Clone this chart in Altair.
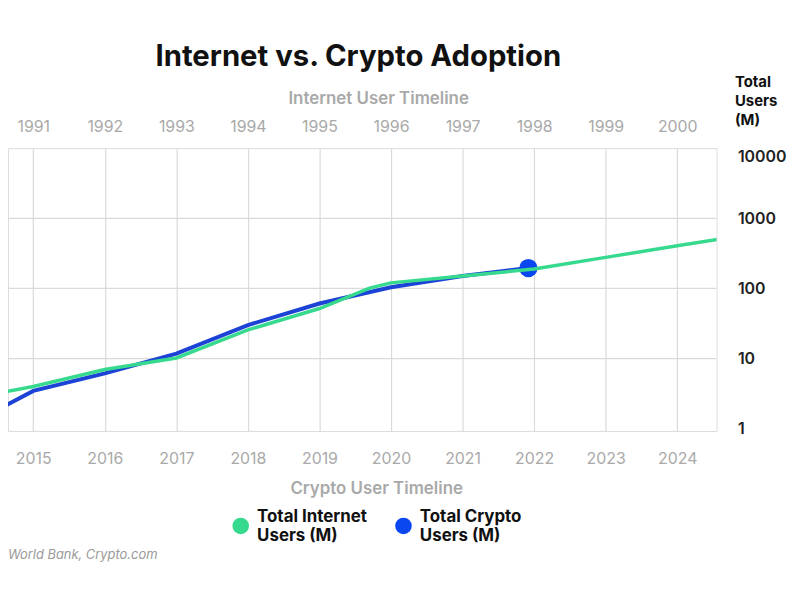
import altair as alt
import pandas as pd

# ---- data ----
internet_years = [1990, 1991, 1992, 1993, 1994, 1995, 1995.7, 1996, 1997, 1998, 1999, 2000, 2001]
internet_users = [2.6, 4.0, 7.0, 10.2, 25.6, 51.7, 101, 120, 150, 189, 277, 405, 591]

crypto_years = [2014, 2015, 2016, 2017, 2018, 2019, 2020, 2021, 2021.92]
crypto_users = [1.0, 3.46, 6.15, 11.8, 30, 61, 104, 150, 195]

internet_ticks = list(range(1991, 2001))
crypto_ticks = list(range(2015, 2025))
y_ticks = [1, 10, 100, 1000, 10000]
y_grid = [10, 100, 1000]

series_names = ["Total Internet Users (M)", "Total Crypto Users (M)"]
series_colors = ["#36d98e", "#0b47f0"]

TITLE = "Internet vs. Crypto Adoption"
SOURCE = "World Bank, Crypto.com"

FONT = "Inter"
GREEN = "#36d98e"
BLUE_LINE = "#1d43d6"
GRID = "#dadada"
GRAY = "#a9a9a9"

df_int = pd.DataFrame({"year": internet_years, "users": internet_users})
df_cry = pd.DataFrame({"year": crypto_years, "users": crypto_users})
df_dot = df_cry.tail(1).assign(series=series_names[1])
df_grid = pd.DataFrame({"users": y_grid})
df_src = pd.DataFrame({"t": [SOURCE]})

y_axis = alt.Axis(
    orient="right", values=y_ticks, format="d",
    labelAlign="left", labelPadding=21, labelFlush=True,
    labelFont=FONT, labelFontSize=16, labelFontWeight=600, labelColor="#222222",
    ticks=False, domain=False, grid=False,
    title=["Total", "Users", "(M)"], titleAngle=0, titleAlign="left", titleBaseline="top",
    titleX=18, titleY=-74, titleFont=FONT, titleFontSize=15, titleFontWeight="bold",
    titleColor="#111111", titleLineHeight=19,
)
y_scale = alt.Scale(type="log", domain=[0.93, 10000], nice=False)
y_enc = alt.Y("users:Q", scale=y_scale, axis=y_axis)

x_int = alt.X(
    "year:Q",
    scale=alt.Scale(domain=[1990.647, 2000.55], nice=False, zero=False),
    axis=alt.Axis(
        orient="top", values=internet_ticks, format="d", ticks=False, domain=False,
        grid=True, gridColor=GRID, gridWidth=1.2,
        labelFont=FONT, labelFontSize=16, labelColor=GRAY, labelPadding=14,
        labelFlush=False, labelOverlap=False,
        title="Internet User Timeline", titleFont=FONT, titleFontSize=17, titleFontWeight=600,
        titleColor=GRAY, titleX=373, titleY=-50, titleBaseline="middle", titleAlign="center",
    ),
)
x_cry = alt.X(
    "year:Q",
    scale=alt.Scale(domain=[2014.647, 2024.55], nice=False, zero=False),
    axis=alt.Axis(
        orient="bottom", values=crypto_ticks, format="d", ticks=False, domain=False,
        grid=False,
        labelFont=FONT, labelFontSize=16, labelColor=GRAY, labelPadding=20,
        labelFlush=False, labelOverlap=False,
        title="Crypto User Timeline", titleFont=FONT, titleFontSize=17, titleFontWeight=600,
        titleColor=GRAY, titleX=371, titleY=58, titleBaseline="middle", titleAlign="center",
    ),
)

hgrid = alt.Chart(df_grid).mark_rule(color=GRID, strokeWidth=1.2).encode(y=y_enc)

crypto_line = alt.Chart(df_cry).mark_line(clip=True, color=BLUE_LINE, strokeWidth=4).encode(x=x_cry, y=y_enc)
crypto_dot = alt.Chart(df_dot).mark_point(filled=True, size=340, opacity=1, clip=False).encode(
    x=x_cry, y=y_enc,
    color=alt.Color(
        "series:N",
        scale=alt.Scale(domain=series_names, range=series_colors),
        legend=alt.Legend(
            orient="none", legendX=226, legendY=372, direction="horizontal",
            title=None, symbolType="circle", symbolSize=280, symbolStrokeWidth=0,
            labelFont=FONT, labelFontSize=17, labelFontWeight="bold", labelColor="#111111",
            labelOffset=8, columnPadding=28, labelBaseline="bottom",
            labelExpr="datum.label == 'Total Internet Users (M)' ? ['Total Internet', 'Users (M)'] : ['Total Crypto', 'Users (M)']",
        ),
    ),
)
crypto = alt.layer(crypto_line, crypto_dot)

internet = alt.Chart(df_int).mark_line(clip=True, color=GREEN, strokeWidth=3.5).encode(x=x_int, y=y_enc)

source = alt.Chart(df_src).mark_text(
    align="left", baseline="middle", font=FONT, fontSize=13, fontStyle="italic", color="#9a9a9a"
).encode(x=alt.value(0), y=alt.value(410), text="t:N")

chart = alt.layer(hgrid, crypto, internet, source).resolve_scale(x="independent").properties(
    width=714, height=285,
    autosize=alt.AutoSizeParams(type="none"),
    padding={"left": 0, "top": 139, "right": 76, "bottom": 150},
    title=alt.TitleParams(
        TITLE, font=FONT, fontSize=29.5, fontWeight="bold", color="#111111",
        anchor="middle", frame="group", offset=2, dx=-4,
    ),
).configure_view(strokeWidth=0).configure(background="white")

chart.save("out.html", embed_options={"renderer": "svg", "actions": False})
